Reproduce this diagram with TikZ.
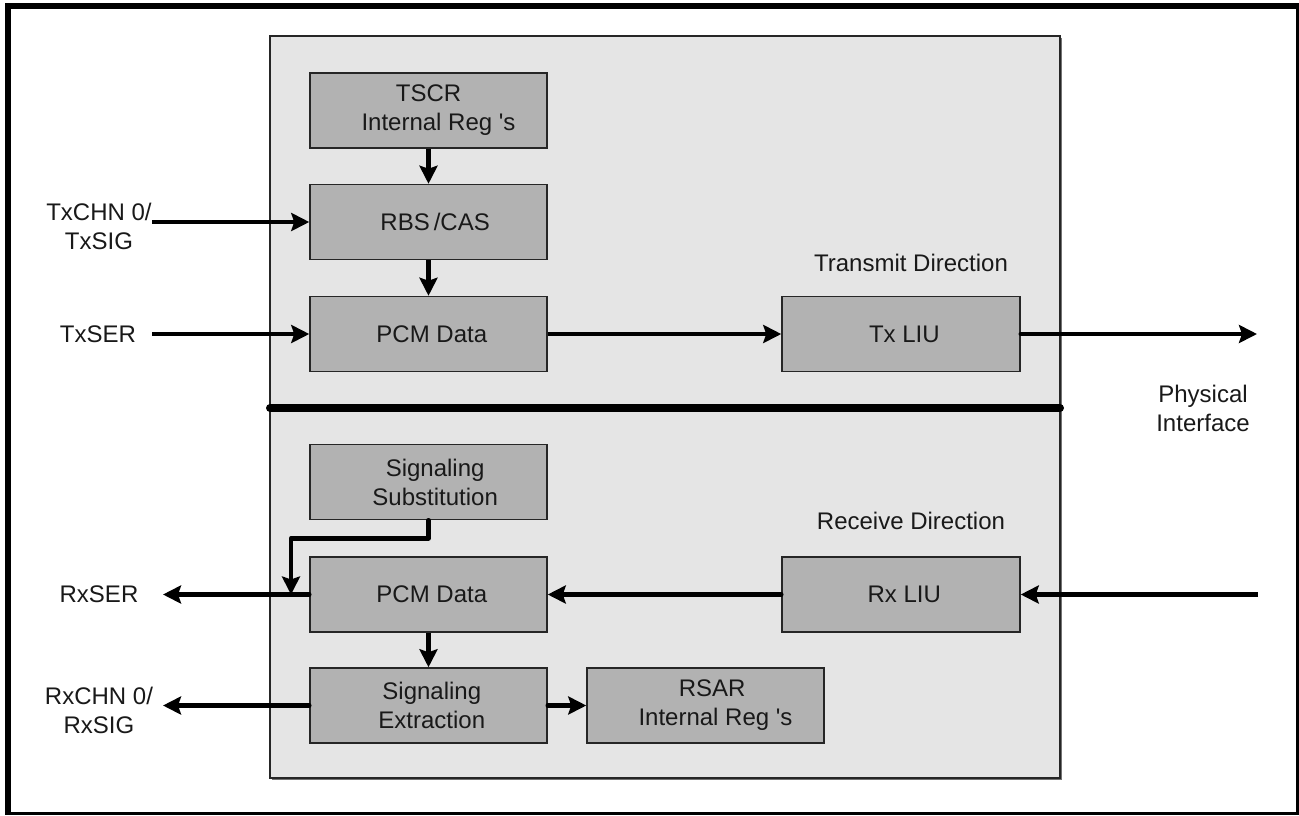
\documentclass[tikz,border=0pt]{standalone}
\usepackage{fontspec}
\setmainfont{Liberation Sans}[Ligatures=TeXOff]
\usetikzlibrary{arrows.meta,positioning}
\tikzset{
  blk/.style={draw=black!85, line width=1.5pt, fill=black!30, minimum width=237pt, minimum height=75pt, inner sep=0pt, align=center, font=\fontsize{24}{29}\selectfont, text=black!90},
  lbl/.style={align=center, inner sep=0pt, font=\fontsize{24}{29}\selectfont, text=black!90},
  arr/.style={line width=4.5pt, -{Stealth[length=18pt,width=18pt,inset=3pt]}, line join=round},
  plain/.style={line width=4.5pt}
}
\begin{document}
\begin{tikzpicture}[x=1pt,y=-1pt]
\useasboundingbox (0,0) rectangle (1299,815);
% outer frame
\fill[black] (5,3) rectangle (1299,9);
\fill[black] (5,3) rectangle (11,815);
\fill[black] (5,812) rectangle (1299,815);
\fill[black] (1296,3) rectangle (1299,815);
% panel
\fill[black!55] (272,38) rectangle (1062,780);
\draw[fill=black!10, line width=1.3pt, draw=black!85] (270,36) rectangle (1060,778);
% bus bar
\draw[line width=8pt, line cap=round] (270,408) -- (1060,408);
% blocks
\node[blk] (tscr) at (428.5,110.5) {TSCR\\\ \ \ Internal Reg 's};
\node[blk] (rbs) at (428.5,222) {\ \ RBS\,/CAS};
\node[blk] (pcmt) at (428.5,334) {\ PCM Data};
\node[blk, minimum width=238pt] (txliu) at (901,334) {\ Tx LIU};
\node[blk] (sigsub) at (428.5,482) {\ \ Signaling\\\ \ Substitution};
\node[blk] (pcmr) at (428.5,594.5) {\ PCM Data};
\node[blk, minimum width=238pt] (rxliu) at (901,594.5) {\ Rx LIU};
\node[blk] (sigext) at (428.5,705.5) {\ Signaling\\\ Extraction};
\node[blk] (rsar) at (705.5,705.5) {\ \ RSAR\\\ \ \ Internal Reg 's};
% labels
\node[lbl] (txchn) at (99,226) {TxCHN 0/\\TxSIG};
\node[lbl] (txser) at (98,334) {TxSER};
\node[lbl] (rxser) at (99,594.5) {RxSER};
\node[lbl] (rxchn) at (99,710) {RxCHN 0/\\RxSIG};
\node[lbl] (txdir) at (911,263) {Transmit Direction};
\node[lbl] (rxdir) at (911,521) {Receive Direction};
\node[lbl] (phy) at (1203,408) {Physical\\Interface};
% coordinates
\coordinate (txchnin) at (152,222);
\coordinate (txserin) at (152,334);
\coordinate (txout) at (1257,334);
\coordinate (rxin) at (1258,594.5);
\coordinate (rxserout) at (163,594.5);
\coordinate (rxchnout) at (163,705.5);
\coordinate (subjoin) at (291,594.5);
% connectors
\draw[arr] (tscr.south) -- (rbs.north);
\draw[arr] (rbs.south) -- (pcmt.north);
\draw[arr] (txchnin) -- (rbs.west);
\draw[arr] (txserin) -- (pcmt.west);
\draw[arr] (pcmt.east) -- (txliu.west);
\draw[arr, line cap=round] (txliu.east) -- (txout);
\draw[arr] (rxin) -- (rxliu.east);
\draw[arr, line cap=round] (rxliu.west) -- (pcmr.east);
\draw[arr, line cap=round] (pcmr.west) -- (rxserout);
\draw[arr] (pcmr.south) -- (sigext.north);
\draw[arr, line cap=round] (sigext.west) -- (rxchnout);
\draw[arr, line cap=round] (sigext.east) -- (rsar.west);
\draw[arr, line cap=round] (sigsub.south) -- ++(0,18) -| (subjoin);
\end{tikzpicture}
\end{document}
